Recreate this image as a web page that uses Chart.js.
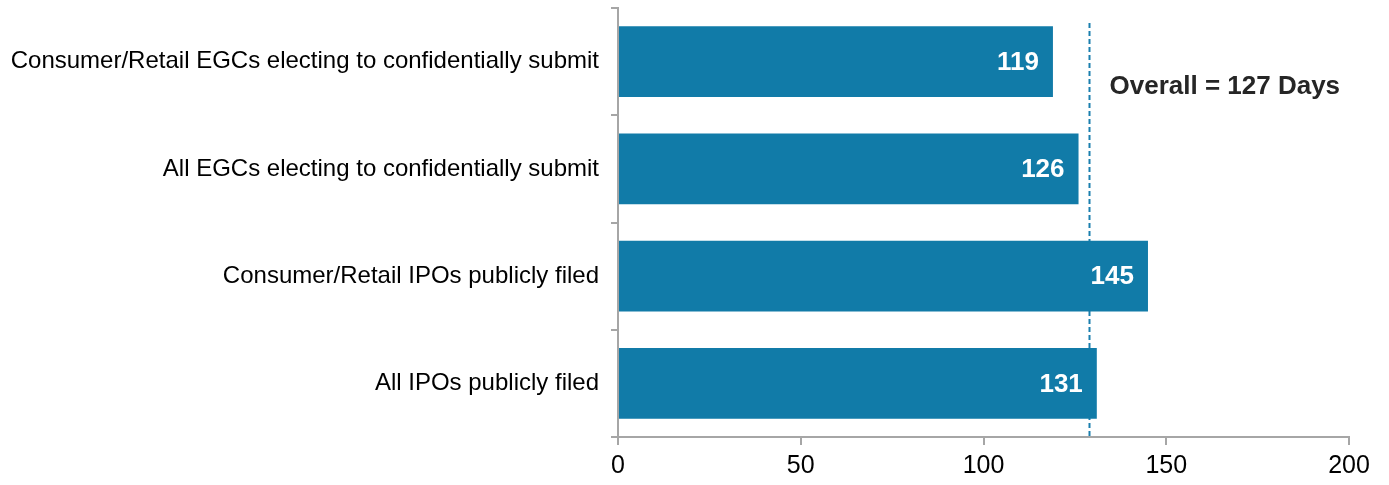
<!DOCTYPE html>
<html>
<head>
<meta charset="utf-8">
<title>Days from first submission to effectiveness</title>
<script src="https://cdn.jsdelivr.net/npm/chart.js@4/dist/chart.umd.min.js"></script>
<style>
    html, body { margin: 0; padding: 0; background: #fff; }
    canvas { display: block; }
</style>
</head>
<body>
<canvas id="daysChart" width="1389" height="485"></canvas>
<script>
// Chart data
const categories = [
    'Consumer/Retail EGCs electing to confidentially submit',
    'All EGCs electing to confidentially submit',
    'Consumer/Retail IPOs publicly filed',
    'All IPOs publicly filed'
];
const daysValues = [119, 126, 145, 131];
const xTickValues = [0, 50, 100, 150, 200];
const overallLabel = 'Overall = 127 Days';
const overallLineValue = 129; // where the dashed line sits in the picture

const barColor = '#117ba8';
const axisColor = '#a6a6a6';
const fontFamily = '"Liberation Sans", Arial, sans-serif';

// Dashed "overall" line, drawn under the bars
const overallLinePlugin = {
    id: 'overallLine',
    beforeDatasetsDraw(chart) {
        const { ctx, chartArea, scales } = chart;
        const x = Math.round(scales.x.getPixelForValue(overallLineValue)) + 0.5;
        ctx.save();
        ctx.strokeStyle = '#1a7fae';
        ctx.lineWidth = 2;
        ctx.setLineDash([5, 3]);
        ctx.beginPath();
        ctx.moveTo(x, chartArea.top + 15);
        ctx.lineTo(x, chartArea.bottom);
        ctx.stroke();
        ctx.restore();
    },
    afterDatasetsDraw(chart) {
        const { ctx, scales } = chart;
        const x = scales.x.getPixelForValue(overallLineValue) + 20;
        const y = scales.y.getPixelForValue(0) + 25;
        ctx.save();
        ctx.fillStyle = '#262626';
        ctx.font = 'bold 26px ' + fontFamily;
        ctx.textAlign = 'left';
        ctx.textBaseline = 'middle';
        ctx.fillText(overallLabel, x, y);
        ctx.restore();
    }
};

// White value labels at the end of each bar
const barLabelsPlugin = {
    id: 'barLabels',
    afterDatasetsDraw(chart) {
        const { ctx } = chart;
        const meta = chart.getDatasetMeta(0);
        ctx.save();
        ctx.fillStyle = '#ffffff';
        ctx.font = 'bold 26px ' + fontFamily;
        ctx.textAlign = 'right';
        ctx.textBaseline = 'middle';
        meta.data.forEach((bar, i) => {
            ctx.fillText(String(daysValues[i]), bar.x - 14, bar.y + 1);
        });
        ctx.restore();
    }
};

new Chart(document.getElementById('daysChart').getContext('2d'), {
    type: 'bar',
    data: {
        labels: categories,
        datasets: [{
            data: daysValues,
            backgroundColor: barColor,
            borderWidth: 0,
            barPercentage: 0.66,
            categoryPercentage: 1
        }]
    },
    options: {
        indexAxis: 'y',
        responsive: false,
        animation: false,
        layout: { padding: { top: 8, right: 40, left: 0, bottom: 0 } },
        plugins: {
            legend: { display: false },
            tooltip: { enabled: false }
        },
        scales: {
            y: {
                offset: true,
                afterFit: scale => {
                    scale.width = 618;
                    scale.paddingTop = 0;
                    scale.paddingBottom = 0;
                },
                grid: {
                    offset: true,
                    drawOnChartArea: false,
                    drawTicks: true,
                    tickLength: 7,
                    color: axisColor,
                    lineWidth: 2
                },
                border: { color: axisColor, width: 2 },
                ticks: {
                    color: '#000',
                    padding: 12,
                    font: { family: fontFamily, size: 24 }
                }
            },
            x: {
                min: 0,
                max: 200,
                afterFit: scale => { scale.height = 48; },
                afterBuildTicks: scale => {
                    scale.ticks = xTickValues.map(v => ({ value: v }));
                },
                grid: {
                    drawOnChartArea: false,
                    drawTicks: true,
                    tickLength: 8,
                    color: axisColor,
                    lineWidth: 2
                },
                border: { color: axisColor, width: 2 },
                ticks: {
                    color: '#000',
                    padding: 6,
                    font: { family: fontFamily, size: 25 }
                }
            }
        }
    },
    plugins: [overallLinePlugin, barLabelsPlugin]
});
</script>
</body>
</html>
